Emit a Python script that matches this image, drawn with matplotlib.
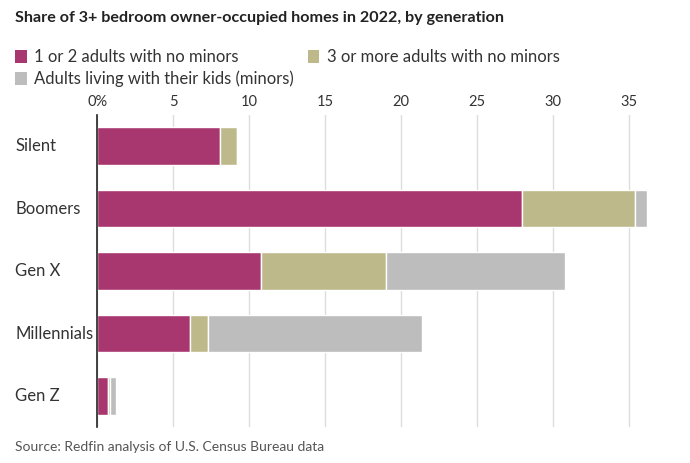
import matplotlib.pyplot as plt
import matplotlib.transforms as mtransforms
import numpy as np

generations = ['Silent', 'Boomers', 'Gen X', 'Millennials', 'Gen Z']
two_adults = [8.1, 28.0, 10.8, 6.1, 0.7]
three_plus = [1.1, 7.4, 8.2, 1.2, 0.15]
with_kids = [0.0, 0.8, 11.8, 14.1, 0.35]
series_names = ['1 or 2 adults with no minors', '3 or more adults with no minors',
                'Adults living with their kids (minors)']
colors = ['#A8376F', '#BEB98A', '#BDBDBD']
ticks = [0, 5, 10, 15, 20, 25, 30, 35]

plt.rcParams['font.family'] = ['Lato', 'DejaVu Sans']
txt = '#333333'

fig = plt.figure(figsize=(6.9, 4.63), dpi=100)
ax = fig.add_axes([0.141, 0.077, 0.814, 0.675])

y = np.arange(len(generations))
left = np.zeros(len(generations))
for vals, c in zip([two_adults, three_plus, with_kids], colors):
    ax.barh(y, vals, left=left, height=0.6, color=c, edgecolor='white', linewidth=1, zorder=3)
    left += np.array(vals)

ax.set_xlim(0, 37)
ax.set_ylim(4.5, -0.5)
ax.xaxis.tick_top()
ax.set_xticks(ticks)
ax.set_xticklabels(['0%'] + [str(t) for t in ticks[1:]], color=txt, fontsize=10.5)
ax.tick_params(axis='x', length=0, pad=4)
ax.grid(axis='x', color='#dddddd', linewidth=1, zorder=0)
ax.set_yticks([])
for s in ['top', 'right', 'bottom']:
    ax.spines[s].set_visible(False)
ax.spines['left'].set_color('#222222')
ax.spines['left'].set_linewidth(1.2)
ax.spines['left'].set_zorder(4)

trans = mtransforms.blended_transform_factory(fig.transFigure, ax.transData)
for yi, g in zip(y, generations):
    ax.text(0.022, yi, g, transform=trans, ha='left', va='center', fontsize=12, color=txt)

fig.text(0.022, 0.961, 'Share of 3+ bedroom owner-occupied homes in 2022, by generation',
         fontsize=11.6, fontweight='bold', color='#222222', va='center')

legend_pos = [(0.022, 0.876), (0.446, 0.876), (0.022, 0.829)]
for (lx, ly), name, c in zip(legend_pos, series_names, colors):
    fig.patches.append(plt.Rectangle((lx, ly - 0.012), 0.017, 0.027, transform=fig.transFigure,
                                     facecolor=c, edgecolor='none'))
    fig.text(lx + 0.028, ly, name, fontsize=12, color=txt, va='center')

fig.text(0.022, 0.034, 'Source: Redfin analysis of U.S. Census Bureau data',
         fontsize=10, color='#555555', va='center')

fig.savefig('out.png', dpi=100)
